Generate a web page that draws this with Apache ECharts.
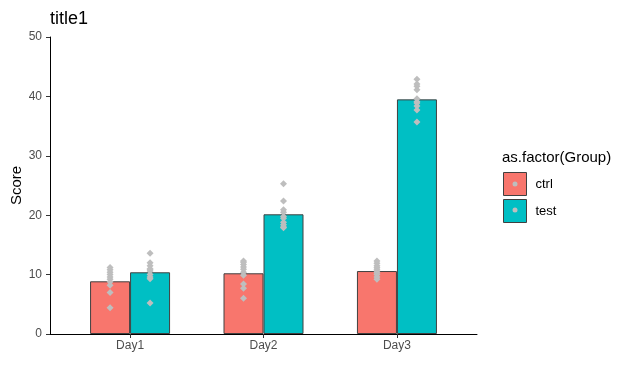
<!DOCTYPE html>
<html>
<head>
<meta charset="utf-8">
<script src="https://cdn.jsdelivr.net/npm/echarts@6/dist/echarts.min.js"></script>
<style>html,body{margin:0;padding:0;background:#fff}#c{width:640px;height:384px}</style>
</head>
<body>
<div id="c"></div>
<script>
const categories = ['Day1', 'Day2', 'Day3'];
const groups = ['ctrl', 'test'];
const barCtrl = [8.87, 10.22, 10.6];
const barTest = [10.39, 20.15, 39.5];
const ptsCtrl = [
  [4.4, 7.0, 8.2, 8.8, 9.2, 9.6, 10.0, 10.4, 10.8, 11.2],
  [6.0, 7.7, 8.4, 9.9, 10.4, 10.9, 11.3, 11.7, 12.1, 12.3],
  [9.2, 9.6, 10.0, 10.3, 10.6, 10.9, 11.2, 11.5, 11.9, 12.3]
];
const ptsTest = [
  [5.2, 9.3, 9.6, 10.0, 10.6, 10.8, 11.0, 11.5, 12.0, 13.6],
  [17.9, 18.0, 18.4, 18.8, 19.5, 19.8, 20.5, 20.9, 22.4, 25.3],
  [35.7, 37.7, 38.4, 38.9, 39.1, 39.6, 41.1, 41.7, 42.1, 42.9]
];
const yTicks = [0, 10, 20, 30, 40, 50];

const colors = ['#F8766D', '#00BFC4'];
const dodge = 0.15;
const FONT = 'Liberation Sans, Arial, sans-serif';

function barData(arr) { return arr.map((v, i) => [i + 1, v]); }
function ptData(arr, off) {
  const out = [];
  arr.forEach((vals, i) => vals.forEach(v => out.push([i + 1 + off, v])));
  return out;
}

const chart = echarts.init(document.getElementById('c'), null, {renderer: 'canvas'});
chart.setOption({
  animation: false,
  backgroundColor: '#fff',
  title: [
    {text: 'title1', left: 45, top: 5, textStyle: {fontFamily: FONT, fontSize: 18, fontWeight: 'normal', color: '#000'}},
    {text: 'as.factor(Group)', left: 497, top: 145, textStyle: {fontFamily: FONT, fontSize: 15, fontWeight: 'normal', color: '#000'}}
  ],
  grid: {left: 50, right: 163, top: 37, bottom: 50, containLabel: false, outerBoundsMode: 'none'},
  legend: {
    orient: 'vertical', left: 503, top: 172, itemWidth: 23, itemHeight: 23, itemGap: 3, padding: 0,
    icon: 'rect',
    data: groups,
    textStyle: {fontFamily: FONT, fontSize: 13, color: '#000', padding: [0, 0, 0, 4]},
    itemStyle: {borderColor: '#404040', borderWidth: 1}
  },
  xAxis: {
    type: 'value', min: 0.4, max: 3.6,
    splitLine: {show: false},
    axisLine: {show: true, lineStyle: {color: '#000', width: 1}},
    axisTick: {show: true, length: 4, lineStyle: {color: '#333'}, customValues: [1, 2, 3]},
    axisLabel: {customValues: [1, 2, 3], formatter: v => categories[Math.round(v) - 1] || '', fontFamily: FONT, fontSize: 12, color: '#4D4D4D', margin: 6}
  },
  yAxis: {
    type: 'value', min: 0, max: 50, interval: 10,
    name: 'Score', nameLocation: 'middle', nameGap: 26, nameRotate: 90, nameMoveOverlap: false,
    nameTextStyle: {fontFamily: FONT, fontSize: 15, color: '#000'},
    splitLine: {show: false},
    axisLine: {show: true, lineStyle: {color: '#000', width: 1}},
    axisTick: {show: true, length: 4, lineStyle: {color: '#333'}},
    axisLabel: {fontFamily: FONT, fontSize: 12, color: '#4D4D4D', margin: 8, formatter: v => yTicks.includes(v) ? String(v) : ''}
  },
  series: [
    {name: 'ctrl', type: 'bar', data: barData(barCtrl), barWidth: 40, barGap: '0%',
     itemStyle: {color: colors[0], borderColor: '#404040', borderWidth: 1}},
    {name: 'test', type: 'bar', data: barData(barTest), barWidth: 40, barGap: '0%',
     itemStyle: {color: colors[1], borderColor: '#404040', borderWidth: 1}},
    {name: 'ctrlPts', type: 'scatter', data: ptData(ptsCtrl, -dodge), symbol: 'diamond', symbolSize: 7,
     itemStyle: {color: '#BEBEBE', opacity: 1}, z: 5},
    {name: 'testPts', type: 'scatter', data: ptData(ptsTest, dodge), symbol: 'diamond', symbolSize: 7,
     itemStyle: {color: '#BEBEBE', opacity: 1}, z: 5}
  ],
  graphic: [
    {type: 'circle', shape: {cx: 515, cy: 184, r: 2.5}, style: {fill: '#BEBEBE'}, z: 100},
    {type: 'circle', shape: {cx: 515, cy: 210, r: 2.5}, style: {fill: '#BEBEBE'}, z: 100}
  ]
});
</script>
</body>
</html>
